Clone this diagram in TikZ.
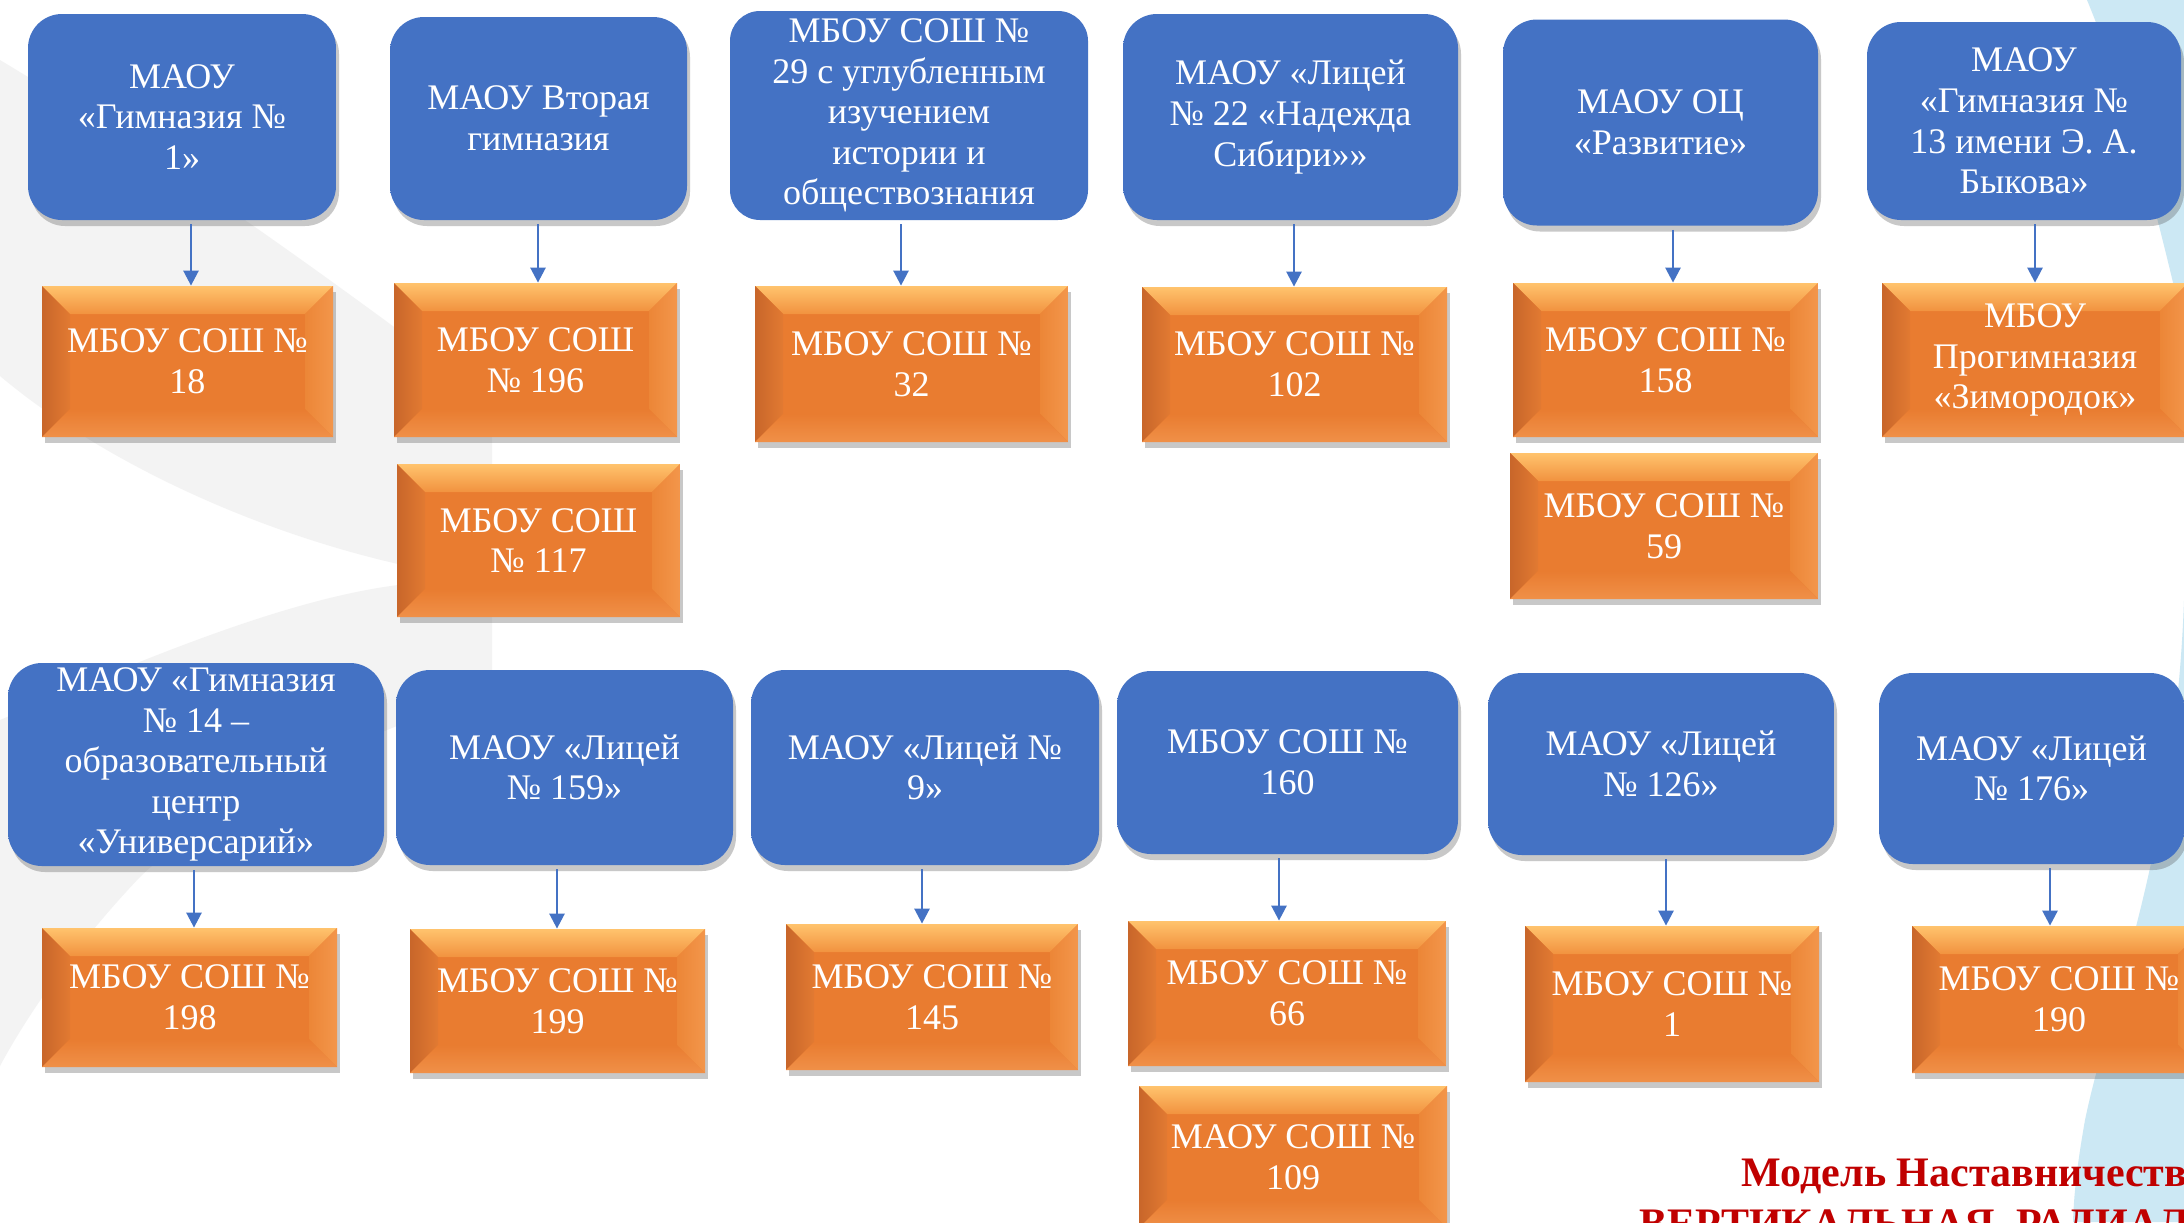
\documentclass[tikz,border=0pt]{standalone}
\usepackage{fontspec}
\setmainfont{Liberation Serif}
\usetikzlibrary{arrows.meta,shadows}
\definecolor{BlueMain}{HTML}{4472C4}
\definecolor{BlueTop}{HTML}{8DB5F7}
\definecolor{BlueBot}{HTML}{5C88D8}
\definecolor{OrMain}{HTML}{E97C30}
\definecolor{OrTop}{HTML}{FFC36D}
\definecolor{OrBevT}{HTML}{F1923F}
\definecolor{OrDark}{HTML}{C8662A}
\definecolor{OrBevL}{HTML}{E27A32}
\definecolor{OrBevR}{HTML}{EC8637}
\definecolor{OrEdgeR}{HTML}{F3964B}
\definecolor{OrBot}{HTML}{F09048}
\definecolor{ArrBlue}{HTML}{4472C4}
\definecolor{BgBlue}{HTML}{CCE8F4}
\definecolor{BgGray}{HTML}{F3F3F3}
\definecolor{TitleRed}{HTML}{C00000}
\pgfdeclareverticalshading{blueshade}{100bp}{color(0bp)=(BlueBot); color(7bp)=(BlueMain); color(84bp)=(BlueMain); color(100bp)=(BlueTop)}
\def\bv{14pt}
\tikzset{
  wh/.style 2 args={minimum width=#1*0.5pt, minimum height=#2*0.5pt},
  boxtext/.style={text=white, align=center, inner sep=0pt, font=\fontsize{18}{20.3}\selectfont},
  bbox/.style={boxtext, rounded corners=17pt, shade, shading=blueshade, draw=none,
     drop shadow={shadow xshift=1.5pt, shadow yshift=-3pt, opacity=0.3, fill=black!70}},
  flatbox/.style={boxtext, rounded corners=15pt, fill=BlueMain, draw=none},
  obox/.style={boxtext, fill=OrMain, draw=none,
     drop shadow={shadow xshift=1.5pt, shadow yshift=-3pt, opacity=0.3, fill=black!70},
     path picture={
       \coordinate (pnw) at (path picture bounding box.north west);
       \coordinate (pne) at (path picture bounding box.north east);
       \coordinate (psw) at (path picture bounding box.south west);
       \coordinate (pse) at (path picture bounding box.south east);
       \shade[top color=OrTop, bottom color=OrBevT] (pnw) -- (pne) -- ([xshift=-\bv,yshift=-\bv]pne) -- ([xshift=\bv,yshift=-\bv]pnw) -- cycle;
       \shade[left color=OrDark, right color=OrBevL] (pnw) -- ([xshift=\bv,yshift=-\bv]pnw) -- ([xshift=\bv,yshift=\bv]psw) -- (psw) -- cycle;
       \shade[left color=OrBevR, right color=OrEdgeR] (pne) -- ([xshift=-\bv,yshift=-\bv]pne) -- ([xshift=-\bv,yshift=\bv]pse) -- (pse) -- cycle;
       \shade[top color=OrMain, bottom color=OrBot] (psw) -- ([xshift=\bv,yshift=\bv]psw) -- ([xshift=-\bv,yshift=\bv]pse) -- (pse) -- cycle;
     }},
  arr/.style={draw=ArrBlue, line width=1.3pt, shorten <=2pt, -{Triangle[width=7.5pt,length=7.5pt]}},
}
\begin{document}
\begin{tikzpicture}[x=0.5pt, y=-0.5pt]
\useasboundingbox (0,0) rectangle (2184,1222);
\clip (0,0) rectangle (2184,1222);
\fill[white] (0,0) rectangle (2184,1222);
% background decoration
\fill[BgGray] (0,60) .. controls (150,150) and (320,270) .. (492,400) -- (492,572) -- (398,564) .. controls (250,530) and (100,460) .. (0,376) -- cycle;
\fill[BgGray] (492,585) -- (492,690) .. controls (350,740) and (220,800) .. (140,877) .. controls (80,940) and (30,1010) .. (0,1066) -- (0,720) .. controls (130,665) and (280,600) .. (398,585) -- cycle;
\fill[BgBlue] (2087,0) .. controls (2120,80) and (2150,180) .. (2184,330) -- (2184,0) -- cycle;
\fill[BgBlue] (2184,600) .. controls (2175,850) and (2110,1000) .. (2085,1120) .. controls (2078,1160) and (2074,1190) .. (2073,1222) -- (2184,1222) -- cycle;

% top row, blue
\node[bbox, wh={308}{206}] (b1) at (182,117) {МАОУ\\«Гимназия №\\1»};
\node[bbox, wh={297}{203}] (b2) at (538.5,118.5) {МАОУ Вторая\\гимназия};
\node[flatbox, wh={358}{209}] (b3) at (909,115.5) {МБОУ СОШ №\\29 с углубленным\\изучением\\истории и\\обществознания};
\node[bbox, wh={335}{206}] (b4) at (1290.5,117) {МАОУ «Лицей\\№ 22 «Надежда\\Сибири»»};
\node[bbox, wh={315}{206}] (b5) at (1660.5,122.5) {МАОУ ОЦ\\«Развитие»};
\node[bbox, wh={314}{198}] (b6) at (2024,121) {МАОУ\\«Гимназия №\\13 имени Э. А.\\Быкова»};

% top row, orange
\node[obox, wh={291}{151}] (o1) at (187.5,361.5) {МБОУ СОШ №\\18};
\node[obox, wh={283}{154}] (o2) at (535.5,360) {МБОУ СОШ\\№ 196};
\node[obox, wh={283}{153}] (o2b) at (538.5,540.5) {МБОУ СОШ\\№ 117};
\node[obox, wh={313}{156}] (o3) at (911.5,364) {МБОУ СОШ №\\32};
\node[obox, wh={305}{155}] (o4) at (1294.5,364.5) {МБОУ СОШ №\\102};
\node[obox, wh={305}{154}] (o5) at (1665.5,360) {МБОУ СОШ №\\158};
\node[obox, wh={308}{146}] (o5b) at (1664,526) {МБОУ СОШ №\\59};
\node[obox, wh={306}{154}] (o6) at (2035,360) {МБОУ\\Прогимназия\\«Зимородок»};

% bottom row, blue
\node[bbox, wh={376}{203}] (bb1) at (196,764.5) {МАОУ «Гимназия\\№ 14 –\\образовательный\\центр\\«Универсарий»};
\node[bbox, wh={337}{195}] (bb2) at (564.5,767.5) {МАОУ «Лицей\\№ 159»};
\node[bbox, wh={348}{195}] (bb3) at (925,767.5) {МАОУ «Лицей №\\9»};
\node[bbox, wh={341}{183}] (bb4) at (1287.5,762.5) {МБОУ СОШ №\\160};
\node[bbox, wh={346}{182}] (bb5) at (1661,764) {МАОУ «Лицей\\№ 126»};
\node[bbox, wh={305}{191}] (bb6) at (2031.5,768.5) {МАОУ «Лицей\\№ 176»};

% bottom row, orange
\node[obox, wh={295}{139}] (bo1) at (189.5,997.5) {МБОУ СОШ №\\198};
\node[obox, wh={295}{144}] (bo2) at (557.5,1001) {МБОУ СОШ №\\199};
\node[obox, wh={292}{146}] (bo3) at (932,997) {МБОУ СОШ №\\145};
\node[obox, wh={318}{145}] (bo4) at (1287,993.5) {МБОУ СОШ №\\66};
\node[obox, wh={308}{142}] (bo4b) at (1293,1157) {МАОУ СОШ №\\109};
\node[obox, wh={294}{156}] (bo5) at (1672,1004) {МБОУ СОШ №\\1};
\node[obox, wh={294}{147}] (bo6) at (2059,999.5) {МБОУ СОШ №\\190};

% arrow columns
\coordinate (a1) at (191,0);
\coordinate (a2) at (538,0);
\coordinate (a3) at (901,0);
\coordinate (a4) at (1294,0);
\coordinate (a5) at (1673,0);
\coordinate (a6) at (2035,0);
\coordinate (c1) at (194,0);
\coordinate (c2) at (557,0);
\coordinate (c3) at (922,0);
\coordinate (c4) at (1279,0);
\coordinate (c5) at (1666,0);
\coordinate (c6) at (2050,0);

\draw[arr] (b1.south -| a1) -- (o1.north -| a1);
\draw[arr] (b2.south -| a2) -- (o2.north -| a2);
\draw[arr] (b3.south -| a3) -- (o3.north -| a3);
\draw[arr] (b4.south -| a4) -- (o4.north -| a4);
\draw[arr] (b5.south -| a5) -- (o5.north -| a5);
\draw[arr] (b6.south -| a6) -- (o6.north -| a6);
\draw[arr] (bb1.south -| c1) -- (bo1.north -| c1);
\draw[arr] (bb2.south -| c2) -- (bo2.north -| c2);
\draw[arr] (bb3.south -| c3) -- (bo3.north -| c3);
\draw[arr] (bb4.south -| c4) -- (bo4.north -| c4);
\draw[arr] (bb5.south -| c5) -- (bo5.north -| c5);
\draw[arr] (bb6.south -| c6) -- (bo6.north -| c6);

% title (cut off at the picture's edge, as in the reference)
\node[anchor=north, inner sep=0pt, align=center, text=TitleRed, font=\fontsize{21}{25.5}\selectfont\bfseries] (title) at (1975,1159) {Модель Наставничества\\ВЕРТИКАЛЬНАЯ, РАДИАЛЬНАЯ};
\end{tikzpicture}
\end{document}
